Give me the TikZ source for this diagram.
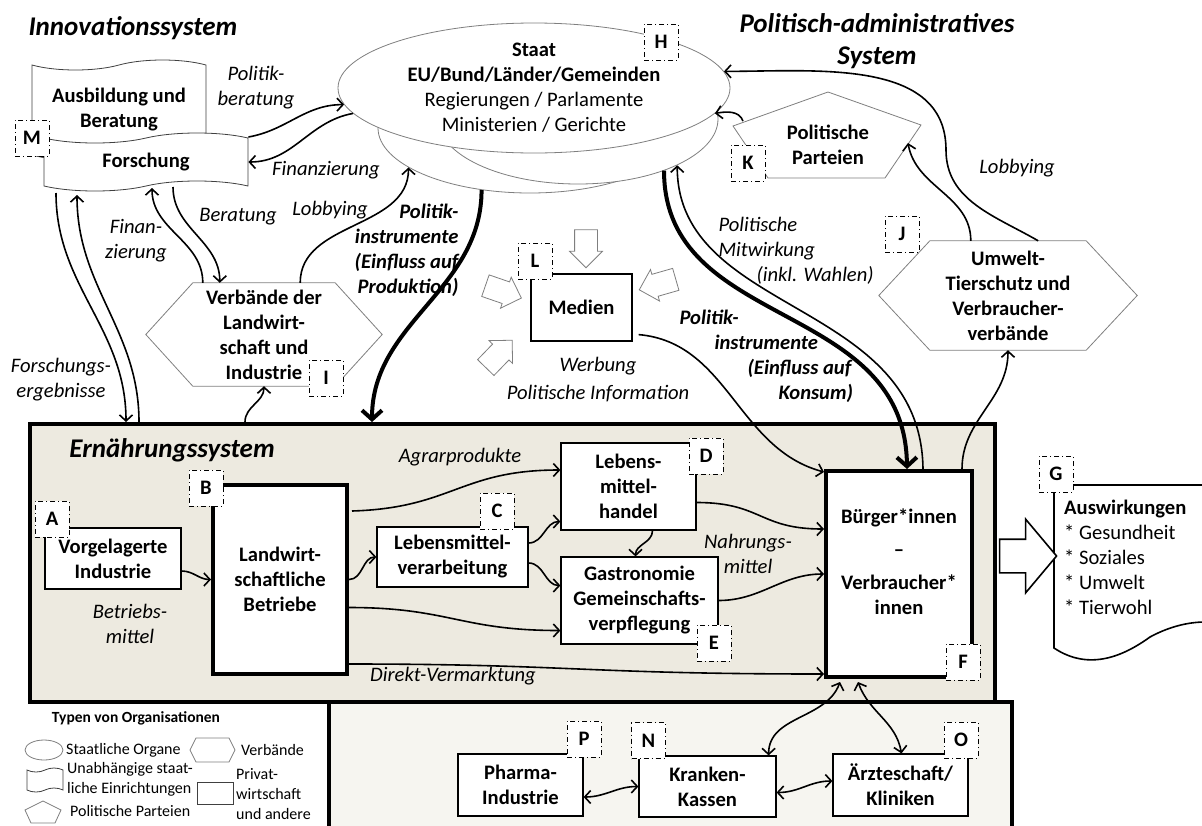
\documentclass[tikz,border=0pt]{standalone}
\usepackage{fontspec}
\setmainfont{Carlito}
\usetikzlibrary{arrows.meta,calc,positioning,shapes.geometric,shapes.symbols,shapes.arrows}
\definecolor{ernbeige}{HTML}{EDEAE0}
\definecolor{gesbeige}{HTML}{F6F5F0}
\definecolor{orggrey}{HTML}{7F7F7F}
\newcommand{\SBox}{\fontsize{20.6}{25}\selectfont}
\newcommand{\SHead}{\fontsize{27}{32}\selectfont\bfseries\itshape}
\newcommand{\SLeg}{\fontsize{16}{20}\selectfont}

\begin{document}
\begin{tikzpicture}[x=1pt, y=1pt,
  font=\SBox,
  flow/.style={-{Straight Barb[length=6pt,width=13pt]}, line width=1.6pt},
  twoway/.style={{Straight Barb[length=6pt,width=13pt]}-{Straight Barb[length=6pt,width=13pt]},
                 line width=1.6pt},
  heavy/.style={-{Straight Barb[length=9pt,width=20pt]}, line width=4pt},
  frame/.style={draw, line width=4pt, anchor=north west, inner sep=0pt},
  firm/.style={draw, fill=white, line width=1.2pt, align=center,
               font=\SBox\bfseries, inner sep=0pt},
  thickfirm/.style={firm, line width=4pt},
  tag/.style={draw, dash pattern=on 5pt off 3pt on 1pt off 3pt, line width=1pt,
              fill=white, minimum width=34, minimum height=36, inner sep=0pt,
              font=\SBox\bfseries},
  org/.style={draw=orggrey, line width=0.8pt, fill=white},
  orgtext/.style={align=center, font=\SBox\bfseries, inner sep=0pt},
  paper/.style={tape, draw=black!75, line width=0.8pt, fill=white,
                tape bend top=in and out, tape bend bottom=in and out,
                tape bend height=10pt, align=center, font=\SBox\bfseries,
                inner sep=0pt},
  note/.style={align=center, font=\SBox\itshape},
  bignote/.style={font=\SBox\bfseries\itshape},
  hint/.style={single arrow, draw=orggrey, fill=white, line width=0.8pt,
               minimum height=38, inner xsep=0pt, inner ysep=11pt,
               single arrow head extend=5pt},
  legtext/.style={font=\SLeg, anchor=west, align=left, inner sep=0pt}
]
\useasboundingbox (0,0) rectangle (1202,-825);

% Frames of the two lower systems.
\node[frame, fill=gesbeige, minimum width=683, minimum height=140] (ges) at (327,-700) {};
\node[frame, fill=ernbeige, minimum width=965, minimum height=278] (ern) at (28,-422) {};

% Titles.
\node[font=\SHead] (tinno) at (133,-28) {Innovationssystem};
\node[font=\SHead, align=center] (tpol) at (877,-41) {Politisch-administratives\\System};
\node[font=\SHead] (tern) at (172,-450) {Ernährungssystem};

% Innovation system.
\node[paper, minimum width=174, minimum height=100] (ausb) at (119,-110) {Ausbildung und\\Beratung};
\node[paper, minimum width=204, minimum height=58] (forsch) at (146,-162) {Forschung};
\node[tag] (tagM) at (32,-138) {M};

% State, three stacked ellipses.
\node[org, ellipse, minimum width=304, minimum height=130] (staatL) at (530,-128) {};
\node[org, ellipse, minimum width=280, minimum height=130] (staatR) at (578,-119) {};
\node[org, ellipse, minimum width=392, minimum height=130] (staat) at (534,-88) {};
\node[align=center, inner sep=0pt] (staattext) at (staat) {\textbf{Staat}\\
  \textbf{EU/Bund/Länder/Gemeinden}\\Regierungen / Parlamente\\Ministerien / Gerichte};
\node[tag] (tagH) at (661,-42) {H};

% Parties.
\draw[org] (828,-92) -- (921,-125) -- (885,-178) -- (768,-178) -- (733,-126) -- cycle;
\node[orgtext] (par) at (828,-145) {Politische\\Parteien};
\node[tag] (tagK) at (748,-163) {K};

% Associations.
\node[orgtext, minimum width=142, minimum height=103] (verb) at (264,-334.5)
  {Verbände der\\Landwirt-\\schaft und\\Industrie};
\draw[draw=orggrey, line width=0.8pt] (verb.north west) -- (verb.north east)
  -- ($(verb.east)+(47,0)$) -- (verb.south east) -- (verb.south west)
  -- ($(verb.west)+(-47,0)$) -- cycle;
\node[tag] (tagI) at (326,-378) {I};
\node[orgtext, minimum width=156, minimum height=109] (umw) at (1008,-295.5)
  {Umwelt-\\Tierschutz und\\Verbraucher-\\verbände};
\draw[draw=orggrey, line width=0.8pt] (umw.north west) -- (umw.north east)
  -- ($(umw.east)+(51,0)$) -- (umw.south east) -- (umw.south west)
  -- ($(umw.west)+(-51,0)$) -- cycle;
\node[tag] (tagJ) at (902,-234) {J};

% Media.
\node[firm, minimum width=101, minimum height=67] (med) at (581.5,-307.5) {Medien};
\node[tag] (tagL) at (535,-261) {L};
\node[hint, rotate=-90] (hintN) at (586,-243) {};
\node[hint, rotate=-19] (hintW) at (498,-290) {};
\node[hint, rotate=46] (hintS) at (495,-358) {};
\node[hint, rotate=196] (hintE) at (663,-283) {};

% Food system.
\node[firm, minimum width=136, minimum height=61] (vor) at (113,-558.5) {Vorgelagerte\\Industrie};
\node[thickfirm, minimum width=134, minimum height=189] (lw) at (280,-579.5)
  {Landwirt-\\schaftliche\\Betriebe};
\node[firm, minimum width=151, minimum height=60] (vera) at (452.5,-557) {Lebensmittel-\\verarbeitung};
\node[firm, minimum width=135, minimum height=87] (han) at (628.5,-486.5) {Lebens-\\mittel-\\handel};
\node[firm, minimum width=157, minimum height=87] (gas) at (639.5,-600.5)
  {Gastronomie\\Gemeinschafts-\\verpflegung};
\node[thickfirm, minimum width=146, minimum height=206] (bur) at (899,-574)
  {Bürger*innen\\[8pt]–\\[8pt]Verbraucher*\\innen\\\mbox{}};
\node[tag] (tagA) at (52,-519) {A};
\node[tag] (tagB) at (206,-488) {B};
\node[tag] (tagC) at (497,-511) {C};
\node[tag] (tagD) at (706,-456) {D};
\node[tag] (tagE) at (714,-643) {E};
\node[tag] (tagF) at (963,-662) {F};

% Impacts.
\draw[line width=1.6pt] (1205,-485) -- (1054,-485) -- (1054,-648)
  .. controls (1090,-672) and (1125,-655) .. (1150,-637)
  .. controls (1172,-625) and (1192,-622) .. (1205,-622);
\node[align=left, anchor=west, inner sep=0pt] (ausw) at (1064,-557)
  {\textbf{Auswirkungen}\\* Gesundheit\\* Soziales\\* Umwelt\\* Tierwohl};
\node[tag] (tagG) at (1056,-474) {G};
\node[single arrow, draw, line width=1.6pt, fill=white, minimum height=57,
      inner xsep=0pt, inner ysep=16pt, single arrow head extend=20pt,
      single arrow tip angle=100] (wirk) at (1021,-556) {};

% Health system.
\node[firm, minimum width=125, minimum height=62] (pha) at (520.5,-785) {Pharma-\\Industrie};
\node[firm, minimum width=137, minimum height=61] (kk) at (707.5,-786.5) {Kranken-\\Kassen};
\node[firm, minimum width=135, minimum height=62] (arzt) at (900.5,-785) {Ärzteschaft/\\Kliniken};
\node[tag] (tagP) at (584,-739) {P};
\node[tag] (tagN) at (648.5,-740.5) {N};
\node[tag] (tagO) at (961,-740) {O};

% Legend.
\node[font=\fontsize{15.5}{20}\selectfont\bfseries] (legtitle) at (136,-718) {Typen von Organisationen};
\node[org, ellipse, minimum width=38, minimum height=20] (legell) at (44,-750) {};
\node[legtext] (legellt) at (66,-750) {Staatliche Organe};
\draw[org] (196,-738) -- (229,-738) -- (235,-750) -- (229,-762) -- (196,-762) -- (190,-750) -- cycle;
\node[legtext] (leghext) at (241,-750) {Verbände};
\node[tape, draw=black!75, line width=0.8pt, fill=white, minimum width=36, minimum height=24,
      tape bend height=4pt] (legtape) at (45,-780) {};
\node[legtext] (legtapet) at (67,-779) {Unabhängige staat-\\liche Einrichtungen};
\node[draw=black!75, line width=0.8pt, minimum width=36, minimum height=22, inner sep=0pt] (legbox) at (215,-793) {};
\node[legtext] (legboxt) at (236,-794) {Privat-\\wirtschaft\\und andere};
\draw[org] (43,-801) -- (61,-810) -- (55,-823) -- (31,-823) -- (25,-810) -- cycle;
\node[legtext] (legpent) at (70,-811) {Politische Parteien};

% Italic labels.
\node[note] (lpolb) at (256,-88) {Politik-\\beratung};
\node[note] (lfin1) at (326,-170) {Finanzierung};
\node[note] (lber) at (238,-217) {Beratung};
\node[note] (llob1) at (330,-210) {Lobbying};
\node[note] (lfin2) at (136,-241) {Finan-\\zierung};
\node[note] (lfe) at (61,-380) {Forschungs-\\ergebnisse};
\node[note] (llob2) at (1017,-168) {Lobbying};
\node[note, align=left, anchor=west] (lmit) at (715,-251)
  {Politische\\Mitwirkung\\\hspace*{38pt}(inkl. Wahlen)};
\node[note] (lwer) at (598,-380) {Werbung\\[3pt]Politische Information};
\node[note] (lagr) at (460,-457) {Agrarprodukte};
\node[note] (lbm) at (130,-624) {Betriebs-\\mittel};
\node[note] (ldv) at (453,-676) {Direkt-Vermarktung};
\node[note] (lnm) at (748,-554) {Nahrungs-\\mittel};
\node[bignote, align=right, anchor=east] (lpip) at (462,-250)
  {Politik-\\instrumente\\(Einfluss auf\\Produktion)};
\node[bignote, align=left, anchor=west] (lpik) at (676,-356)
  {Politik-\\\hspace*{35pt}instrumente\\\hspace*{68pt}(Einfluss auf\\\hspace*{99pt}Konsum)};

% Innovation links.
\draw[flow] ($(forsch.east)+(0,25)$) to[out=10,in=180] (staat.185);
\draw[flow] (staat.188) to[out=190,in=0] (forsch.east);
\draw[flow] ($(forsch)+(-90,-31)$) to[out=-90,in=90] ($(ern.north west)+(98,0)$);
\draw[flow] ($(ern.north west)+(111,0)$) to[out=90,in=-90] ($(forsch)+(-69,-33)$);
\draw[flow] ($(verb.north west)+(10,0)$) to[out=90,in=-90] ($(forsch)+(6,-26)$);
\draw[flow] ($(forsch)+(27,-25)$) to[out=-90,in=90] ($(verb.north west)+(27,0)$);
\draw[flow] ($(verb.north east)+(-35,0)$) to[out=90,in=-90] (staatL.198);
\draw[flow] ($(ern.north west)+(217,0)$) to[out=90,in=-90] (verb.south);
\draw[heavy] (staatL.232) to[out=-90,in=90] ($(ern.north west)+(344,0)$);

% Political links.
\draw[heavy] (staatR.329) .. controls +(0,-160) and +(-2,170) .. ($(bur.north)+(8,0)$);
\draw[flow] ($(bur.north)+(24,0)$) .. controls +(-2,170) and +(0,-150) .. (staatR.335);
\draw[flow] ($(med.south east)+(6,7)$) to[out=-5,in=165] ($(bur.north west)+(0,-3)$);
\draw[flow] ($(bur.north east)+(-12,0)$) to[out=90,in=-90] (umw.south);
\draw[flow] ($(umw.north west)+(41,0)$) to[out=90,in=-80] ($(par)+(80,2)$);
\coordinate (lobbyturn) at (946,-150);
\draw[flow] ($(umw.north east)+(-48,0)$) to[out=150,in=-90] (lobbyturn)
  to[out=90,in=0] (staat.5);
\draw[flow] ($(par)+(-85,24)$) to[out=110,in=10] (staat.352);

% Food system links.
\draw[flow] ($(vor.east)+(0,-12.5)$) to[out=0,in=180] (lw.west);
\draw[flow] ($(lw.north east)+(3,-28)$) .. controls +(100,3) and +(-100,0) .. ($(han.west)+(0,16.5)$);
\draw[flow] (lw.east) to[out=0,in=180] (vera.west);
\draw[flow] ($(lw.east)+(0,-28)$) .. controls +(100,0) and +(-100,0) .. ($(gas.west)+(0,-30)$);
\draw[flow] ($(lw.south east)+(0,12)$) .. controls +(220,0) and +(-240,0) .. ($(bur.south west)+(0,5)$);
\draw[flow] ($(vera.east)+(0,14)$) to[out=0,in=180] ($(han.west)+(0,-35)$);
\draw[flow] ($(vera.east)+(0,-6)$) to[out=0,in=180] ($(gas.west)+(0,15)$);
\draw[flow] ($(han.south)+(24,0)$) to[out=-90,in=90] ($(gas.north)+(-4,0)$);
\draw[flow] ($(han.east)+(0,-16)$) .. controls +(65,0) and +(-65,0) .. ($(bur.west)+(0,45)$);
\draw[flow] (gas.east) to[out=0,in=180] (bur.west);

% Health links.
\draw[twoway] ($(pha.east)+(0,-12)$) to[out=0,in=180] (kk.west);
\draw[twoway] ($(kk.east)+(0,-6)$) to[out=0,in=180] ($(arzt.west)+(0,4)$);
\draw[twoway] ($(kk.north east)+(-8,0)$) to[out=90,in=-110] ($(bur.south)+(-59,-3)$);
\draw[twoway] ($(arzt.north)+(1,0)$) to[out=100,in=-70] ($(bur.south)+(-41,-3)$);
\end{tikzpicture}
\end{document}
